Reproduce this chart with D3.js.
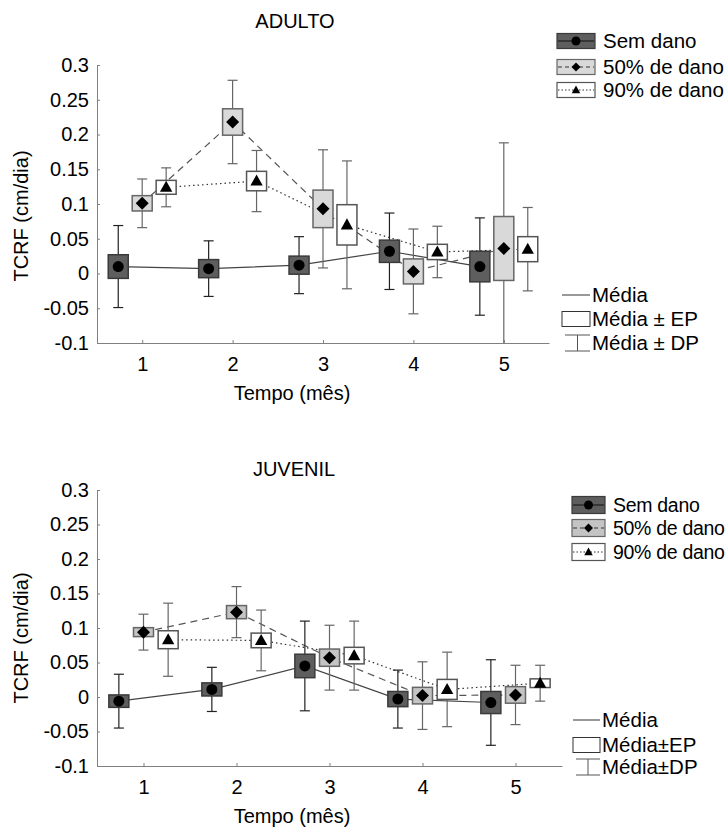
<!DOCTYPE html>
<html>
<head>
<meta charset="utf-8">
<script src="https://cdn.jsdelivr.net/npm/d3@7"></script>
<style>
  body { margin: 0; background: #fff; }
  svg text { font-family: "Liberation Sans", Arial, sans-serif; fill: #000; }
</style>
</head>
<body>
<svg id="chart" width="728" height="829"></svg>
<script>
// categories
var months = [1, 2, 3, 4, 5];
var seriesNames = ["Sem dano", "50% de dano", "90% de dano"];
var yTicks = [-0.1, -0.05, 0, 0.05, 0.1, 0.15, 0.2, 0.25, 0.3];

// ADULTO: mean, standard error (EP), standard deviation (DP)
var adultoSemMean = [0.010, 0.007, 0.012, 0.032, 0.010];
var adultoSemEP   = [0.017, 0.013, 0.013, 0.016, 0.022];
var adultoSemDP   = [0.059, 0.040, 0.041, 0.055, 0.070];
var adulto50Mean  = [0.101, 0.218, 0.093, 0.003, 0.036];
var adulto50EP    = [0.011, 0.019, 0.027, 0.018, 0.046];
var adulto50DP    = [0.035, 0.060, 0.085, 0.061, 0.152];
var adulto90Mean  = [0.124, 0.133, 0.070, 0.031, 0.035];
var adulto90EP    = [0.010, 0.014, 0.029, 0.011, 0.018];
var adulto90DP    = [0.028, 0.044, 0.092, 0.037, 0.060];

// JUVENIL
var juvenilSemMean = [-0.006, 0.011, 0.045, -0.003, -0.008];
var juvenilSemEP   = [0.009, 0.0095, 0.017, 0.011, 0.016];
var juvenilSemDP   = [0.039, 0.032, 0.065, 0.042, 0.062];
var juvenil50Mean  = [0.094, 0.123, 0.057, 0.002, 0.003];
var juvenil50EP    = [0.0065, 0.0095, 0.0125, 0.012, 0.012];
var juvenil50DP    = [0.026, 0.037, 0.047, 0.049, 0.043];
var juvenil90Mean  = [0.083, 0.082, 0.060, 0.011, 0.020];
var juvenil90EP    = [0.013, 0.0106, 0.012, 0.0145, 0.0063];
var juvenil90DP    = [0.053, 0.044, 0.050, 0.054, 0.026];

var svg = d3.select("#chart");
svg.append("rect").attr("width", 728).attr("height", 829).attr("fill", "#fff");

function buildSeries(means, eps, dps) {
    return months.map(function (m, i) {
        return { month: m, mean: means[i], ep: eps[i], dp: dps[i] };
    });
}

var styles = [
    { shift: -0.265, stroke: "#3a3a3a", whisker: "#222", line: "#444", dash: null, marker: "circle", size: 5.5 },
    { shift: 0, stroke: "#666", whisker: "#666", line: "#555", dash: "7,5", marker: "diamond", size: 6.5 },
    { shift: 0.265, stroke: "#555", whisker: "#666", line: "#333", dash: "1.5,3", marker: "triangle", size: 6.5 }
];

function markerPath(type, s) {
    if (type === "diamond") return "M0," + (-s) + "L" + s + ",0L0," + s + "L" + (-s) + ",0Z";
    if (type === "triangle") return "M0," + (-s) + "L" + (s * 0.95) + "," + (s * 0.7) + "L" + (-s * 0.95) + "," + (s * 0.7) + "Z";
    return d3.symbol().type(d3.symbolCircle).size(Math.PI * s * s)();
}

function fmt(d) { return d === 0 ? "0" : String(+d.toFixed(2)); }

function make_panel(cfg) {
    var x = d3.scaleLinear().domain([0.5, 5.5]).range([cfg.left, cfg.right]);
    var y = d3.scaleLinear().domain([-0.1, 0.3]).range([cfg.bottom, cfg.top]);
    var g = svg.append("g");

    var clipId = "clip" + cfg.id;
    svg.append("clipPath").attr("id", clipId)
        .append("rect").attr("x", cfg.left).attr("y", cfg.top - 2)
        .attr("width", cfg.right - cfg.left).attr("height", cfg.bottom - cfg.top + 2);

    // axes
    g.append("g")
        .attr("transform", "translate(" + cfg.left + ",0)")
        .call(d3.axisLeft(y).tickValues(yTicks).tickFormat(fmt).tickSizeInner(-3).tickSizeOuter(0).tickPadding(8))
        .call(function (a) {
            a.selectAll("path,line").attr("stroke", "#808080");
            a.selectAll("text").attr("font-size", 20).attr("font-family", "Liberation Sans, Arial, sans-serif").attr("fill", "#000");
        });
    g.append("g")
        .attr("transform", "translate(0," + cfg.bottom + ")")
        .call(d3.axisBottom(x).tickValues(months).tickFormat(d3.format("d")).tickSizeInner(-3).tickSizeOuter(0).tickPadding(14))
        .call(function (a) {
            a.selectAll("path,line").attr("stroke", "#808080");
            a.selectAll("text").attr("font-size", 20).attr("font-family", "Liberation Sans, Arial, sans-serif").attr("fill", "#000");
        });

    g.append("text").attr("x", cfg.titleX).attr("y", cfg.titleY)
        .attr("text-anchor", "middle").attr("font-size", 20).text(cfg.title);
    g.append("text").attr("x", 292).attr("y", cfg.bottom + 57)
        .attr("text-anchor", "middle").attr("font-size", 20).text("Tempo (mês)");
    g.append("text")
        .attr("transform", "translate(28," + cfg.yLabelMid + ") rotate(-90)")
        .attr("text-anchor", "middle").attr("font-size", 20).text("TCRF (cm/dia)");

    var plot = g.append("g").attr("clip-path", "url(#" + clipId + ")");

    // mean lines first
    cfg.series.forEach(function (s, k) {
        var st = styles[k];
        plot.append("path")
            .datum(s)
            .attr("fill", "none")
            .attr("stroke", st.line)
            .attr("stroke-width", 1.2)
            .attr("stroke-dasharray", st.dash)
            .attr("d", d3.line()
                .x(function (d) { return x(d.month + st.shift); })
                .y(function (d) { return y(d.mean); }));
    });

    cfg.series.forEach(function (s, k) {
        var st = styles[k];
        var grp = plot.append("g").selectAll("g").data(s).enter().append("g")
            .attr("transform", function (d) { return "translate(" + x(d.month + st.shift) + ",0)"; });
        // whiskers (mean ± DP)
        grp.append("line")
            .attr("y1", function (d) { return y(d.mean + d.dp); })
            .attr("y2", function (d) { return y(d.mean - d.dp); })
            .attr("stroke", st.whisker).attr("stroke-width", 1.2);
        grp.append("line").attr("x1", -5).attr("x2", 5)
            .attr("y1", function (d) { return y(d.mean + d.dp); })
            .attr("y2", function (d) { return y(d.mean + d.dp); })
            .attr("stroke", st.whisker).attr("stroke-width", 1.2);
        grp.append("line").attr("x1", -5).attr("x2", 5)
            .attr("y1", function (d) { return y(d.mean - d.dp); })
            .attr("y2", function (d) { return y(d.mean - d.dp); })
            .attr("stroke", st.whisker).attr("stroke-width", 1.2);
        // box (mean ± EP)
        grp.append("rect")
            .attr("x", -10).attr("width", 20)
            .attr("y", function (d) { return y(d.mean + d.ep); })
            .attr("height", function (d) { return y(d.mean - d.ep) - y(d.mean + d.ep); })
            .attr("fill", cfg.fills[k]).attr("stroke", st.stroke).attr("stroke-width", 1.5);
        grp.append("path")
            .attr("transform", function (d) { return "translate(0," + y(d.mean) + ")"; })
            .attr("d", markerPath(st.marker, st.size))
            .attr("fill", "#000");
    });

    // series legend
    var lg = g.append("g").selectAll("g").data(seriesNames).enter().append("g")
        .attr("transform", function (d, i) { return "translate(" + cfg.legX + "," + cfg.legY[i] + ")"; });
    lg.append("rect")
        .attr("x", 0).attr("y", -cfg.legH / 2).attr("width", cfg.legW).attr("height", cfg.legH)
        .attr("fill", function (d, i) { return cfg.fills[i]; })
        .attr("stroke", function (d, i) { return styles[i].stroke; }).attr("stroke-width", 1.2);
    lg.append("line")
        .attr("x1", 1).attr("x2", cfg.legW - 1)
        .attr("stroke", function (d, i) { return i === 0 ? "#111" : "#333"; })
        .attr("stroke-dasharray", function (d, i) { return i === 1 ? "4,3" : (i === 2 ? "1.5,2" : null); });
    lg.append("path")
        .attr("transform", "translate(" + (cfg.legW / 2) + ",0)")
        .attr("d", function (d, i) { return markerPath(styles[i].marker, 4.5); })
        .attr("fill", "#000");
    lg.append("text")
        .attr("x", cfg.legTextX - cfg.legX).attr("y", 7)
        .attr("font-size", cfg.legFont).attr("letter-spacing", cfg.legSpacing)
        .text(function (d) { return d; });

    // statistic legend
    var sl = cfg.stat;
    var sg = g.append("g").attr("stroke", "#555").attr("fill", "none");
    sg.append("line").attr("x1", sl.x).attr("x2", sl.x + sl.w).attr("y1", sl.y[0]).attr("y2", sl.y[0]).attr("stroke-width", 1.2);
    sg.append("rect").attr("x", sl.x).attr("y", sl.y[1] - 7.5).attr("width", sl.w).attr("height", 15).attr("stroke", "#333");
    sg.append("line").attr("x1", sl.x + 3).attr("x2", sl.x + sl.w).attr("y1", sl.y[2] - 8).attr("y2", sl.y[2] - 8);
    sg.append("line").attr("x1", sl.x + 3).attr("x2", sl.x + sl.w).attr("y1", sl.y[2] + 8).attr("y2", sl.y[2] + 8);
    sg.append("line").attr("x1", sl.x + 3 + (sl.w - 3) / 2).attr("x2", sl.x + 3 + (sl.w - 3) / 2).attr("y1", sl.y[2] - 8).attr("y2", sl.y[2] + 8);
    g.append("g").selectAll("text").data(sl.labels).enter().append("text")
        .attr("x", sl.x + sl.w + 2)
        .attr("y", function (d, i) { return sl.y[i] + 7; })
        .attr("font-size", 20.5)
        .text(function (d) { return d; });
}

make_panel({
    id: "a", title: "ADULTO", titleX: 295, titleY: 28,
    left: 97, right: 549, top: 65, bottom: 343, yLabelMid: 216,
    fills: ["#5e5e5e", "#d9d9d9", "#ffffff"],
    series: [buildSeries(adultoSemMean, adultoSemEP, adultoSemDP),
             buildSeries(adulto50Mean, adulto50EP, adulto50DP),
             buildSeries(adulto90Mean, adulto90EP, adulto90DP)],
    legX: 557, legW: 38, legH: 15, legY: [41, 67, 90], legTextX: 603, legFont: 20.5, legSpacing: 0,
    stat: { x: 562, w: 28, y: [295, 319, 343], labels: ["Média", "Média ± EP", "Média ± DP"] }
});

make_panel({
    id: "j", title: "JUVENIL", titleX: 294, titleY: 476,
    left: 97, right: 562, top: 490, bottom: 766, yLabelMid: 638,
    fills: ["#5e5e5e", "#c4c4c4", "#ffffff"],
    series: [buildSeries(juvenilSemMean, juvenilSemEP, juvenilSemDP),
             buildSeries(juvenil50Mean, juvenil50EP, juvenil50DP),
             buildSeries(juvenil90Mean, juvenil90EP, juvenil90DP)],
    legX: 572, legW: 33, legH: 17, legY: [505, 528, 552], legTextX: 613, legFont: 19.5, legSpacing: -0.3,
    stat: { x: 573, w: 27, y: [720, 745, 767], labels: ["Média", "Média±EP", "Média±DP"] }
});
</script>
</body>
</html>
